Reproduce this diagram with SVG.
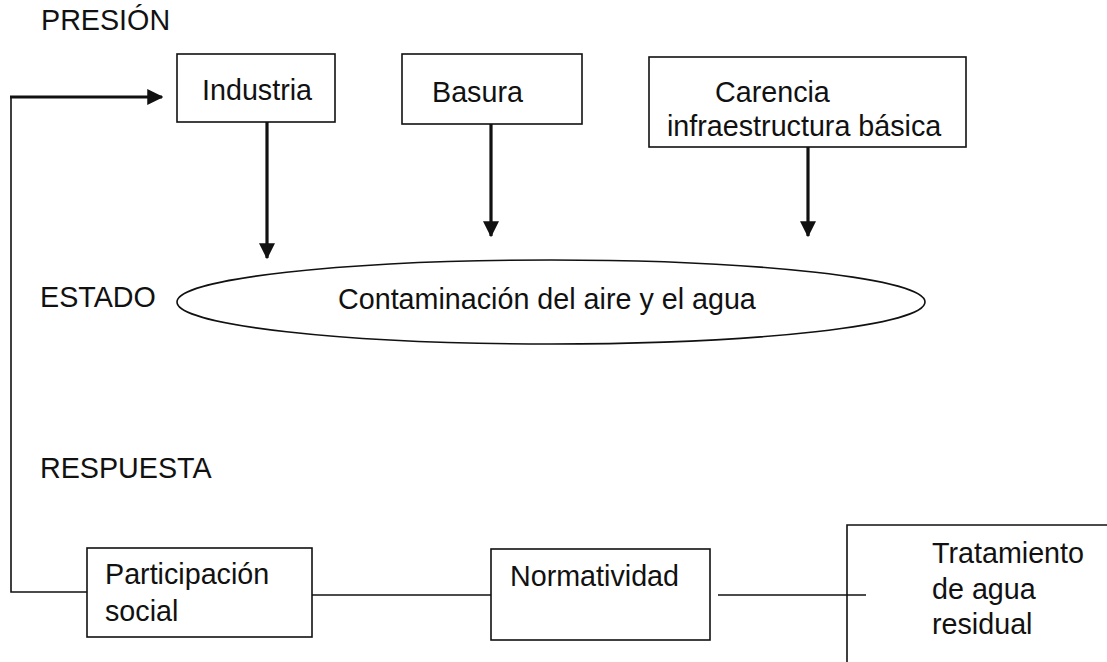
<svg xmlns="http://www.w3.org/2000/svg" width="1107" height="662" viewBox="0 0 1107 662">
<defs>
<style>
text{font-family:"Liberation Sans",Arial,sans-serif;font-size:28.7px;fill:#111}
.box{fill:#fff;stroke:#111;stroke-width:1.6}
.thin{fill:none;stroke:#111;stroke-width:1.6}
.thick{fill:none;stroke:#111;stroke-width:3.2}
</style>
<marker id="ah" markerWidth="5" markerHeight="5" refX="4.6" refY="2.5" orient="auto" markerUnits="strokeWidth">
<path d="M0,0 L5,2.5 L0,5 Z" fill="#111"/>
</marker>
</defs>
<rect width="1107" height="662" fill="#fff"/>
<g id="labels">
<text x="41" y="30">PRESIÓN</text>
<text x="40" y="307">ESTADO</text>
<text x="40" y="478">RESPUESTA</text>
</g>
<g id="connectors">
<polyline class="thin" points="87,592 11,592 11,97"/>
<line class="thick" x1="10" y1="97" x2="162" y2="97" marker-end="url(#ah)"/>
<line class="thick" x1="267" y1="122" x2="267" y2="258" marker-end="url(#ah)"/>
<line class="thick" x1="491" y1="124" x2="491" y2="236" marker-end="url(#ah)"/>
<line class="thick" x1="808" y1="147" x2="808" y2="236" marker-end="url(#ah)"/>
<line class="thin" x1="312" y1="595" x2="491" y2="595"/>
<line class="thin" x1="718" y1="595" x2="866" y2="595"/>
</g>
<g id="industria">
<rect class="box" x="177" y="54" width="158" height="68"/>
<text x="202" y="100">Industria</text>
</g>
<g id="basura">
<rect class="box" x="402" y="54" width="180" height="70"/>
<text x="432" y="102">Basura</text>
</g>
<g id="carencia">
<rect class="box" x="649" y="57" width="317" height="90"/>
<text x="715" y="102">Carencia</text>
<text x="667" y="136">infraestructura básica</text>
</g>
<g id="estado">
<ellipse class="thin" cx="551" cy="302" rx="374" ry="42"/>
<text x="338" y="309">Contaminación del aire y el agua</text>
</g>
<g id="participacion">
<rect class="box" x="87" y="548" width="225" height="89"/>
<text x="105" y="584">Participación</text>
<text x="105" y="621">social</text>
</g>
<g id="normatividad">
<rect class="box" x="491" y="549" width="219" height="91"/>
<text x="510" y="586">Normatividad</text>
</g>
<g id="tratamiento">
<polyline class="thin" points="1107,525 847,525 847,662"/>
<text x="932" y="563">Tratamiento</text>
<text x="932" y="599">de agua</text>
<text x="932" y="634">residual</text>
</g>
</svg>
